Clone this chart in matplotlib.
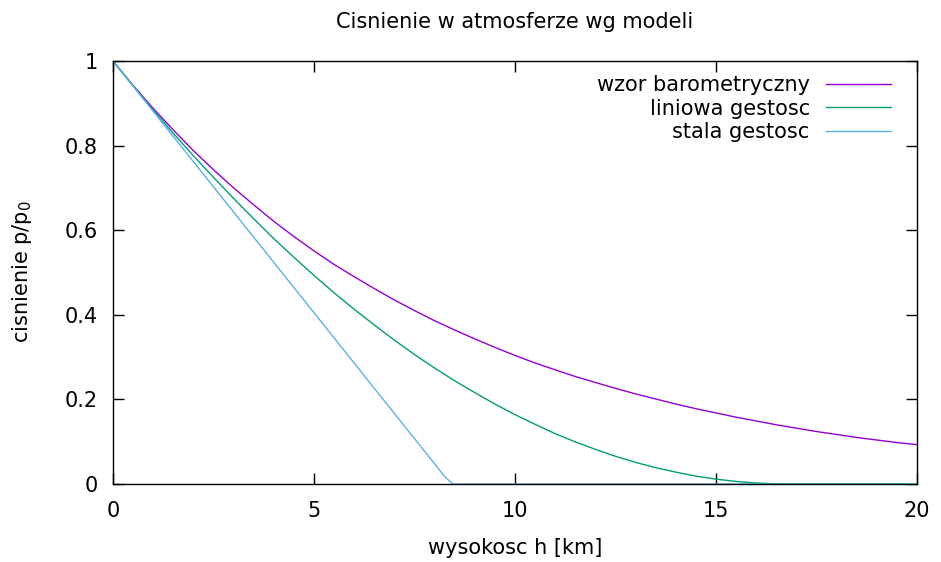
import matplotlib
matplotlib.use("Agg")
import matplotlib.pyplot as plt

title = "Cisnienie w atmosferze wg modeli"
xlabel = "wysokosc h [km]"
ylabel = r"cisnienie p/p$_{\mathregular{0}}$"

h_km = [0, 0.5, 1, 1.5, 2, 2.5, 3, 3.5, 4, 4.5, 5, 5.5, 6, 6.5, 7, 7.5, 8, 8.5, 9, 9.5, 10,
        10.5, 11, 11.5, 12, 12.5, 13, 13.5, 14, 14.5, 15, 15.5, 16, 16.5, 17, 17.5, 18,
        18.5, 19, 19.5, 20]
p_baro = [1.0, 0.942, 0.888, 0.837, 0.788, 0.743, 0.700, 0.660, 0.621, 0.585, 0.551,
          0.519, 0.490, 0.462, 0.435, 0.410, 0.386, 0.364, 0.343, 0.323, 0.304,
          0.286, 0.270, 0.254, 0.240, 0.226, 0.213, 0.201, 0.189, 0.178, 0.168,
          0.158, 0.149, 0.140, 0.132, 0.124, 0.117, 0.110, 0.104, 0.098, 0.093]
p_lin = [1.0, 0.941, 0.884, 0.829, 0.776, 0.725, 0.675, 0.627, 0.580, 0.536, 0.493,
         0.452, 0.413, 0.376, 0.340, 0.306, 0.274, 0.244, 0.216, 0.189, 0.164,
         0.141, 0.119, 0.0995, 0.082, 0.0655, 0.051, 0.0386, 0.028, 0.0187, 0.0115,
         0.006, 0.0023, 0.0003, 0.0, 0.0, 0.0, 0.0, 0.0, 0.0, 0.0]

h_const = [0, 8.25, 8.45, 20]
p_const = [1.0, 0.018, 0.0, 0.0]

labels = ["wzor barometryczny", "liniowa gestosc", "stala gestosc"]
colors = ["#9400d3", "#009e73", "#56b4e9"]

xticks = [0, 5, 10, 15, 20]
yticks = [0, 0.2, 0.4, 0.6, 0.8, 1]
ytick_labels = ["0", "0.2", "0.4", "0.6", "0.8", "1"]

plt.rcParams['font.family'] = ['DejaVu Sans']
plt.rcParams['mathtext.default'] = 'regular'

FS = 15

fig = plt.figure(figsize=(9.41, 5.62), dpi=100)
ax = fig.add_axes([113/941, 1-484/562, (917-113)/941, (484-61)/562])

lw = 1.0
ax.plot(h_km, p_baro, color=colors[0], lw=lw, label=labels[0])
ax.plot(h_km, p_lin, color=colors[1], lw=lw, label=labels[1])
ax.plot(h_const, p_const, color=colors[2], lw=lw, label=labels[2])

ax.set_xlim(0, 20)
ax.set_ylim(0, 1)
ax.set_xticks(xticks)
ax.set_xticklabels([str(t) for t in xticks])
ax.set_yticks(yticks)
ax.set_yticklabels(ytick_labels)

for s in ax.spines.values():
    s.set_linewidth(1.0)
    s.set_color('black')

ax.tick_params(axis='both', which='major', direction='in', length=8, width=1.0,
               top=True, right=True, labelsize=FS, colors='black')
ax.tick_params(axis='x', pad=12)
ax.tick_params(axis='y', pad=11)

fig.text(515/941, 1-22/562, title, ha='center', va='center', fontsize=FS)
fig.text(515/941, 1-548/562, xlabel, ha='center', va='center', fontsize=FS)
fig.text(22/941, 1-272/562, ylabel, ha='center', va='center', rotation=90, fontsize=FS)

leg = ax.legend(loc='upper right', bbox_to_anchor=(1 - 26/804, 1 - 14/423),
                frameon=False, markerfirst=False, fontsize=FS,
                handlelength=3.1, handletextpad=0.8, labelspacing=0.17,
                borderaxespad=0, borderpad=0)

fig.savefig("out.png", dpi=100)
